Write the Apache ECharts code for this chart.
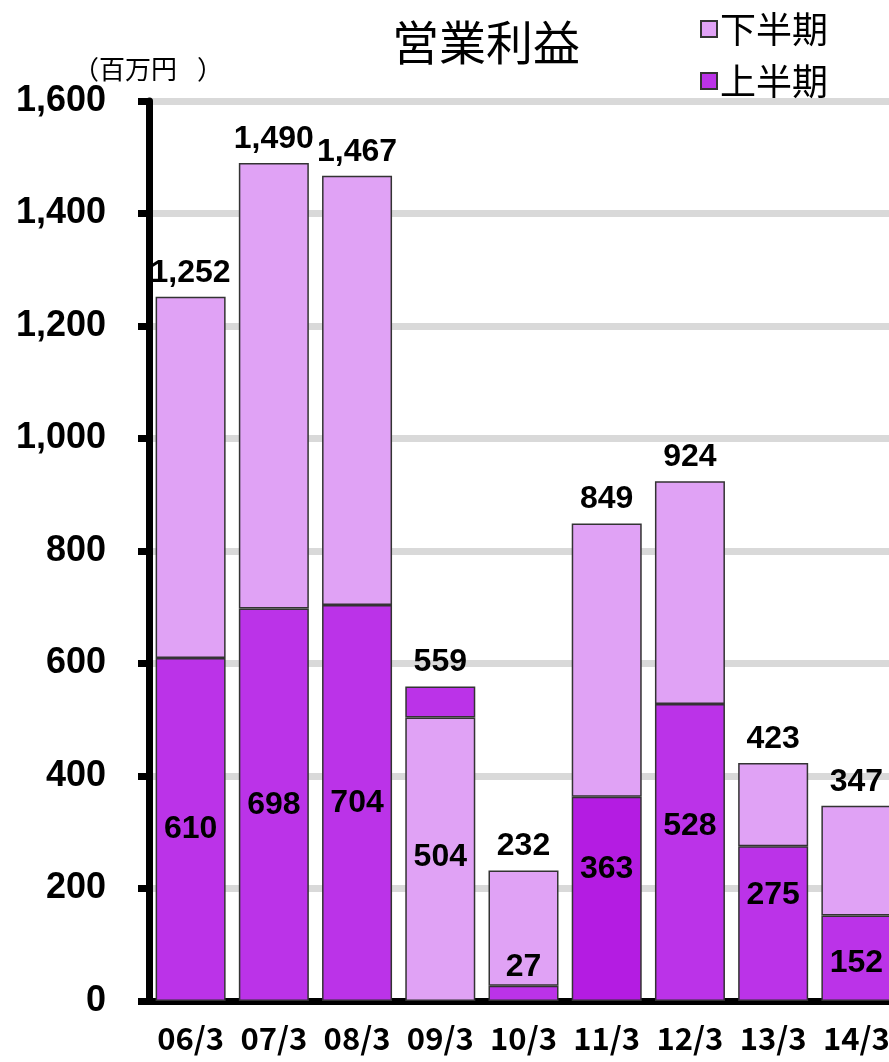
<!DOCTYPE html>
<html>
<head>
<meta charset="utf-8">
<script src="https://cdn.jsdelivr.net/npm/echarts@6/dist/echarts.min.js"></script>
<style>html,body{margin:0;padding:0;background:#fff}#c{width:889px;height:1062px}</style>
</head>
<body>
<div id="c"></div>
<script>
const categories = ['06/3','07/3','08/3','09/3','10/3','11/3','12/3','13/3','14/3'];
const firstHalf  = [610, 698, 704, 504, 27, 363, 528, 275, 152];
const secondHalf = [642, 792, 763, 55, 205, 486, 396, 148, 195];
const totals     = [1252, 1490, 1467, 559, 232, 849, 924, 423, 347];
const yTicks = [0, 200, 400, 600, 800, 1000, 1200, 1400, 1600];

const DARK = '#BB33E8', DARK2 = '#B41CE2', LIGHT = '#E0A2F5';
const innerOffsets = [0, 0, 0, -2, 0, -30, -26, -28, 5];
const numFont = 'Liberation Sans, Arial, sans-serif';
const cjk = '"Noto Sans CJK JP"';

const chart = echarts.init(document.getElementById('c'), null, {renderer: 'canvas'});

const firstData = firstHalf.map((v, i) => {
  const item = {value: v, label: {offset: [0, innerOffsets[i]]}};
  if (i === 3) item.itemStyle = {color: LIGHT};
  if (i === 5) item.itemStyle = {color: DARK2};
  if (i === 4) item.label = {position: 'top', distance: 3};
  return item;
});
const secondData = secondHalf.map((v, i) => {
  const item = {value: v};
  if (i === 3) item.itemStyle = {color: DARK};
  return item;
});

chart.setOption({
  animation: false,
  title: {
    text: '営業利益', left: 481, top: 14, textAlign: 'center',
    textStyle: {fontFamily: 'Noto Sans CJK JP', fontSize: 47, fontWeight: 'normal', color: '#000'}
  },
  graphic: [
    {type: 'text', left: 73, top: 56, style: {text: '（', font: '26px ' + cjk, fill: '#000'}},
    {type: 'text', left: 99, top: 56, style: {text: '百万円', font: '26px ' + cjk, fill: '#000'}},
    {type: 'text', left: 197, top: 56, style: {text: '）', font: '26px ' + cjk, fill: '#000'}}
  ],
  legend: {
    orient: 'vertical', left: 695, top: 6,
    data: ['下半期', '上半期'],
    icon: 'rect', itemWidth: 16, itemHeight: 16, itemGap: 16,
    textStyle: {fontFamily: 'Noto Sans CJK JP', fontSize: 36, lineHeight: 36, color: '#000', padding: [0, 0, 0, -2]}
  },
  grid: {left: 149, top: 101, width: 749, height: 900, containLabel: false, outerBoundsMode: 'none'},
  xAxis: {
    type: 'category', data: categories,
    axisLine: {lineStyle: {color: '#000', width: 7}},
    axisTick: {show: false},
    axisLabel: {interval: 0, margin: 22, fontFamily: 'Noto Sans CJK JP', fontWeight: 'bold', fontSize: 31, color: '#000'}
  },
  yAxis: {
    type: 'value', min: 0, max: 1600, interval: 200,
    axisLine: {show: true, lineStyle: {color: '#000', width: 7}},
    axisTick: {show: true, length: 11, lineStyle: {color: '#000', width: 7}},
    axisLabel: {
      margin: 43, fontFamily: numFont, fontWeight: 'bold', fontSize: 36, color: '#000',
      formatter: v => yTicks.includes(v) ? v.toLocaleString('en-US') : ''
    },
    splitLine: {show: true, lineStyle: {color: '#D9D9D9', width: 7}}
  },
  series: [
    {
      name: '上半期', type: 'bar', stack: 'a', barWidth: 70, data: firstData,
      itemStyle: {color: DARK, borderColor: '#333', borderWidth: 1.5},
      label: {show: true, position: 'inside', fontFamily: numFont, fontWeight: 'bold', fontSize: 32, color: '#000'}
    },
    {
      name: '下半期', type: 'bar', stack: 'a', barWidth: 70, data: secondData,
      itemStyle: {color: LIGHT, borderColor: '#333', borderWidth: 1.5},
      label: {
        show: true, position: 'top', distance: 8, fontFamily: numFont, fontWeight: 'bold', fontSize: 32, color: '#000',
        formatter: p => totals[p.dataIndex].toLocaleString('en-US')
      }
    }
  ]
});
</script>
</body>
</html>
